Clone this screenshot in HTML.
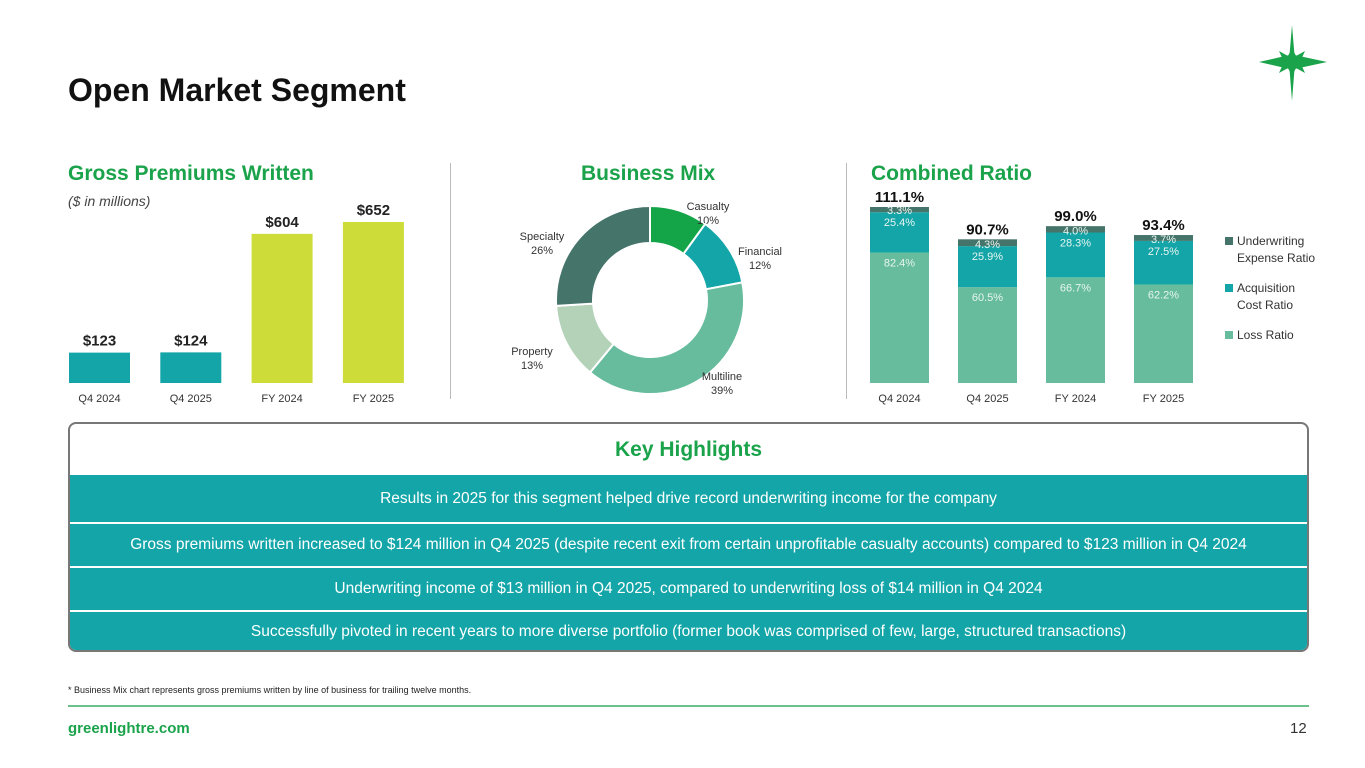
<!DOCTYPE html>
<html><head><meta charset="utf-8"><style>
body{margin:0;width:1365px;height:768px;background:#fff;font-family:"Liberation Sans",sans-serif;position:relative;overflow:hidden}
.abs{position:absolute}
h1{position:absolute;left:68px;top:72px;margin:0;font-size:32px;font-weight:bold;color:#111}
.sec{position:absolute;font-size:21px;font-weight:bold;color:#1aa34a}
.row{position:absolute;left:0;width:100%;background:#13a5a8;color:#fff;font-size:15.5px;text-align:center}
</style></head><body>
<h1>Open Market Segment</h1>
<svg class="abs" style="left:1255px;top:22px" width="80" height="82">
<polygon points="37,3 39.5,33 72,40 39.5,47 37,79 34.5,47 4,40 34.5,33" fill="#1aa34a"/>
<polygon points="37,26 41,34 50,29 45,40 50,51 41,46 37,54 33,46 24,51 29,40 24,29 33,34" fill="#1aa34a"/>
</svg>
<div class="sec" style="left:68px;top:162px">Gross Premiums Written</div>
<div class="abs" style="left:68px;top:193px;font-size:14px;font-style:italic;color:#444">($ in millions)</div>
<div class="sec" style="left:581px;top:162px">Business Mix</div>
<div class="sec" style="left:871px;top:162px">Combined Ratio</div>
<div class="abs" style="left:450px;top:163px;width:1px;height:236px;background:#bbb"></div>
<div class="abs" style="left:846px;top:163px;width:1px;height:236px;background:#bbb"></div>
<svg id="gpw" class="abs" style="left:0;top:0" width="450" height="420"></svg>
<svg id="mix" class="abs" style="left:460px;top:180px" width="380" height="230"></svg>
<svg id="cr" class="abs" style="left:850px;top:180px" width="500" height="235"></svg>

<div class="abs" style="left:68px;top:422px;width:1237px;height:226px;border:2px solid #777;border-radius:8px;overflow:hidden">
<div class="abs" style="left:0;top:0;width:100%;height:51px;text-align:center;line-height:51px;font-size:21px;font-weight:bold;color:#1aa34a">Key Highlights</div>
<div class="row" style="top:51px;height:47px;line-height:47px">Results in 2025 for this segment helped drive record underwriting income for the company</div>
<div class="row" style="top:100px;height:42px;line-height:42px">Gross premiums written increased to $124 million in Q4 2025 (despite recent exit from certain unprofitable casualty accounts) compared to $123 million in Q4 2024</div>
<div class="row" style="top:144px;height:42px;line-height:42px">Underwriting income of $13 million in Q4 2025, compared to underwriting loss of $14 million in Q4 2024</div>
<div class="row" style="top:188px;height:42px;line-height:40px">Successfully pivoted in recent years to more diverse portfolio (former book was comprised of few, large, structured transactions)</div>
</div>
<div class="abs" style="left:68px;top:685px;font-size:9px;color:#222">* Business Mix chart represents gross premiums written by line of business for trailing twelve months.</div>
<div class="abs" style="left:68px;top:705px;width:1241px;height:2px;background:#6cc08a"></div>
<div class="abs" style="left:68px;top:720px;font-size:15px;font-weight:bold;color:#1aa34a">greenlightre.com</div>
<div class="abs" style="left:1290px;top:720px;font-size:15px;color:#333">12</div>

<script>
const gpwCats=["Q4 2024","Q4 2025","FY 2024","FY 2025"];
const gpwVals=[123,124,604,652];
const gpwLabels=["$123","$124","$604","$652"];
const mixCats=["Casualty","Financial","Multiline","Property","Specialty"];
const mixVals=[10,12,39,13,26];
const crCats=["Q4 2024","Q4 2025","FY 2024","FY 2025"];
const lossVals=[82.4,60.5,66.7,62.2];
const acqVals=[25.4,25.9,28.3,27.5];
const uwVals=[3.3,4.3,4.0,3.7];
const totalVals=[111.1,90.7,99.0,93.4];
const NS="http://www.w3.org/2000/svg";
function mk(svg,tag,attrs,txt){const e=document.createElementNS(NS,tag);for(const k in attrs)e.setAttribute(k,attrs[k]);if(txt!==undefined)e.textContent=txt;svg.appendChild(e);return e;}
(function(){const s=document.getElementById('gpw');const base=383,scale=161/652;
const x=i=>69+i*91.3,w=61;
gpwVals.forEach((v,i)=>{const h=v*scale;
const r=mk(s,'rect',{x:x(i),y:base-h,width:w,height:h,fill:i<2?'#13a5a8':'#cddc39'});

const t=mk(s,'text',{x:x(i)+w/2,y:base-h-7,'text-anchor':'middle','font-size':15,'font-weight':'bold',fill:'#222'},gpwLabels[i]);

const c=mk(s,'text',{x:x(i)+w/2,y:402,'text-anchor':'middle','font-size':11,fill:'#333'},gpwCats[i]);
});})();
(function(){const s=document.getElementById('mix');const cx=190,cy=120,R=94,r=57;
const cols=['#13a548','#13a5a8','#66bc9d','#b3d2b7','#44746a'];
const lab=[[248,30],[300,75],[262,200],[72,175],[82,60]];
const tot=mixVals.reduce((a,b)=>a+b,0);let a0=0;
mixVals.forEach((v,i)=>{const a1=a0+v/tot*2*Math.PI;
const p=(a,rr)=>[cx+rr*Math.sin(a),cy-rr*Math.cos(a)];
const [x1,y1]=p(a0,R),[x2,y2]=p(a1,R),[x3,y3]=p(a1,r),[x4,y4]=p(a0,r);const lg=(a1-a0)>Math.PI?1:0;
const e=mk(s,'path',{d:`M${x1},${y1}A${R},${R} 0 ${lg} 1 ${x2},${y2}L${x3},${y3}A${r},${r} 0 ${lg} 0 ${x4},${y4}Z`,fill:cols[i],stroke:'#fff','stroke-width':2});

const t=mk(s,'text',{x:lab[i][0],y:lab[i][1],'text-anchor':'middle','font-size':11,fill:'#333'});

mk(t,'tspan',{x:lab[i][0],dy:0},mixCats[i]);mk(t,'tspan',{x:lab[i][0],dy:14},v+'%');
a0=a1;});})();
(function(){const s=document.getElementById('cr');const base=203,scale=176/111.1;
const x=i=>20+i*88,w=59;
crCats.forEach((c,i)=>{let y=base;
[[lossVals,'#66bc9d','loss'],[acqVals,'#13a5a8','acq'],[uwVals,'#44746a','uw']].forEach(([arr,col,nm])=>{
const h=arr[i]*scale;y-=h;
const r=mk(s,'rect',{x:x(i),y:y,width:w,height:h,fill:col});

const t=mk(s,'text',{x:x(i)+w/2,y:nm==='uw'?y+h+2:y+14,'text-anchor':'middle','font-size':11,fill:'#e8f5f0'},arr[i].toFixed(1)+'%');
});
const t=mk(s,'text',{x:x(i)+w/2,y:y-5,'text-anchor':'middle','font-size':15,'font-weight':'bold',fill:'#111'},totalVals[i].toFixed(1)+'%');

const l=mk(s,'text',{x:x(i)+w/2,y:222,'text-anchor':'middle','font-size':11,fill:'#333'},c);
});
const leg=[['#44746a',['Underwriting','Expense Ratio'],57],['#13a5a8',['Acquisition','Cost Ratio'],104],['#66bc9d',['Loss Ratio'],151]];
leg.forEach(([col,lines,y])=>{const r=mk(s,'rect',{x:375,y:y,width:8,height:8,fill:col});

lines.forEach((ln,j)=>{const t=mk(s,'text',{x:387,y:y+8+j*17,'font-size':12,fill:'#333'},ln);
});});})();
</script>
</body></html>
